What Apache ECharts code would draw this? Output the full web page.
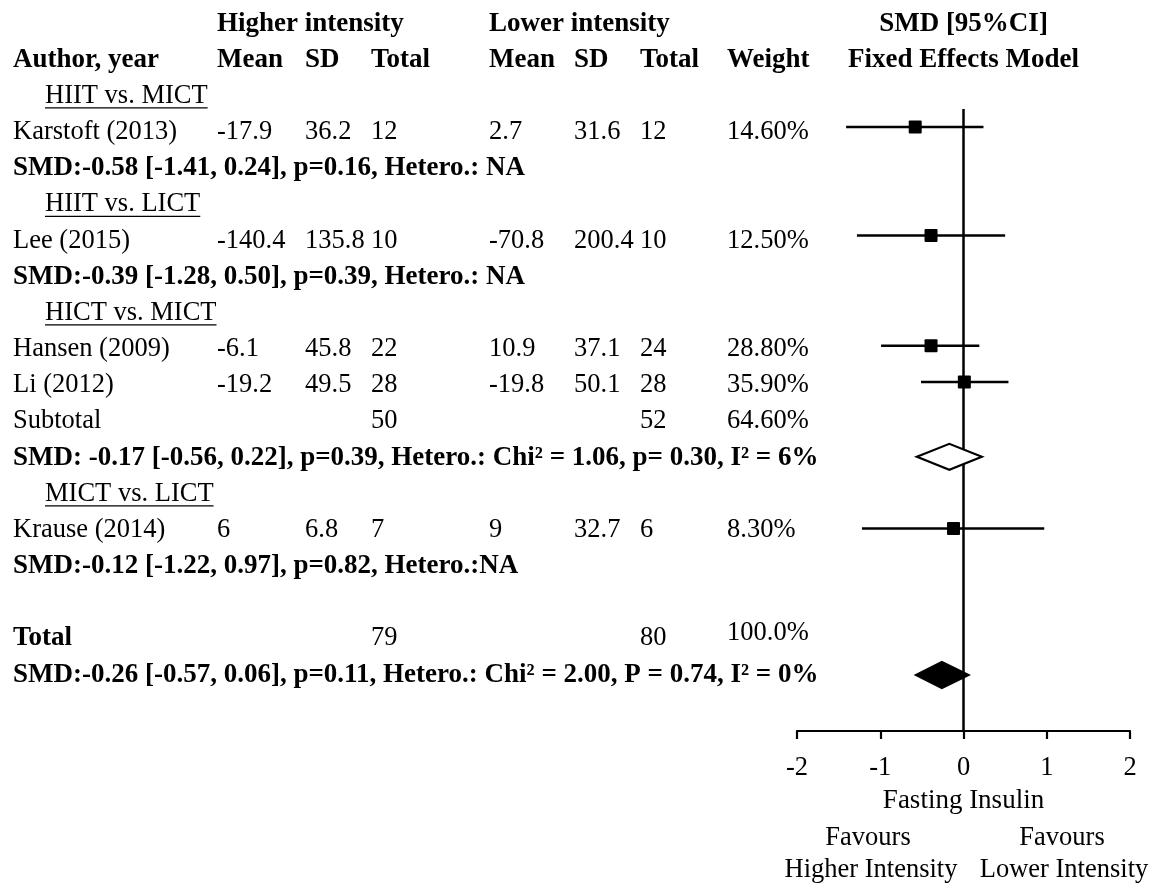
<!DOCTYPE html>
<html><head><meta charset="utf-8">
<script src="https://cdn.jsdelivr.net/npm/echarts@6/dist/echarts.min.js"></script>
<style>html,body{margin:0;padding:0;background:#fff}#c{width:1153px;height:883px}</style>
</head><body><div id="c"></div>
<script>
// ---------------- DATA ----------------
const studies = ['Karstoft (2013)', 'Lee (2015)', 'Hansen (2009)', 'Li (2012)', 'Krause (2014)'];
const hiMean = ['-17.9', '-140.4', '-6.1', '-19.2', '6'];
const hiSD = ['36.2', '135.8', '45.8', '49.5', '6.8'];
const hiN = [12, 10, 22, 28, 7];
const loMean = ['2.7', '-70.8', '10.9', '-19.8', '9'];
const loSD = ['31.6', '200.4', '37.1', '50.1', '32.7'];
const loN = [12, 10, 24, 28, 6];
const weights = ['14.60%', '12.50%', '28.80%', '35.90%', '8.30%'];
const smd = [-0.58, -0.39, -0.39, 0.01, -0.12];
const ciLow = [-1.41, -1.28, -0.99, -0.51, -1.22];
const ciHigh = [0.24, 0.50, 0.19, 0.54, 0.97];
const studyRows = [3, 6, 9, 10, 14];
const markerRows = [2.9, 5.9, 8.95, 9.95, 14];

const subgroupLabels = ['HIIT vs. MICT', 'HIIT vs. LICT', 'HICT vs. MICT', 'MICT vs. LICT'];
const subgroupRows = [2, 5, 8, 13];
const summaryTexts = [
  'SMD:-0.58 [-1.41, 0.24], p=0.16, Hetero.: NA',
  'SMD:-0.39 [-1.28, 0.50], p=0.39, Hetero.: NA',
  'SMD: -0.17 [-0.56, 0.22], p=0.39, Hetero.: Chi² = 1.06, p= 0.30, I² = 6%',
  'SMD:-0.12 [-1.22, 0.97], p=0.82, Hetero.:NA',
  'SMD:-0.26 [-0.57, 0.06], p=0.11, Hetero.: Chi² = 2.00, P = 0.74, I² = 0%'
];
const summaryRows = [4, 7, 12, 15, 18];

const subtotalRow = { label: 'Subtotal', hiN: 50, loN: 52, weight: '64.60%', row: 11 };
const totalRow = { label: 'Total', hiN: 79, loN: 80, weight: '100.0%', row: 17 };

// pooled estimates
const pooledEst = [-0.17, -0.26];
const pooledLow = [-0.56, -0.57];
const pooledHigh = [0.22, 0.06];
const pooledRows = [12.02, 18.05];
const pooledFilled = [0, 1];

const xTicks = [-2, -1, 0, 1, 2];
const groupHeaders = ['Higher intensity', 'Lower intensity'];
const colHeaders = ['Author, year', 'Mean', 'SD', 'Total', 'Mean', 'SD', 'Total', 'Weight'];
const plotHeaders = ['SMD [95%CI]', 'Fixed Effects Model'];
const axisTitle = 'Fasting Insulin';
const favours = [['Favours', 'Higher Intensity'], ['Favours', 'Lower Intensity']];

// ---------------- LAYOUT ----------------
const FONT = '"Liberation Serif", "Times New Roman", serif';
const FS = 26.5;     // regular text
const FSB = 27;      // bold text
const TEXT_DY = 1.5;
const colX = [13, 217, 305, 371, 489, 574, 640, 727];
const subgroupX = 45;
const refLineTop = 2.4;
const axisRowMax = 19.6;

// ---------------- BUILD TEXT ITEMS ----------------
const textItems = [];
textItems.push({ row: 0, x: colX[1], text: groupHeaders[0], bold: true });
textItems.push({ row: 0, x: colX[4], text: groupHeaders[1], bold: true });
textItems.push({ row: 0, center: true, text: plotHeaders[0], bold: true });
colHeaders.forEach((h, i) => textItems.push({ row: 1, x: colX[i], text: h, bold: true }));
textItems.push({ row: 1, center: true, text: plotHeaders[1], bold: true });
subgroupLabels.forEach((s, i) => textItems.push({ row: subgroupRows[i], x: subgroupX, text: s, underline: true }));
studies.forEach((s, i) => {
  const r = studyRows[i];
  [s, hiMean[i], hiSD[i], String(hiN[i]), loMean[i], loSD[i], String(loN[i]), weights[i]]
    .forEach((t, c) => textItems.push({ row: r, x: colX[c], text: t }));
});
summaryTexts.forEach((s, i) => textItems.push({ row: summaryRows[i], x: colX[0], text: s, bold: true }));
textItems.push({ row: subtotalRow.row, x: colX[0], text: subtotalRow.label });
textItems.push({ row: subtotalRow.row, x: colX[3], text: String(subtotalRow.hiN) });
textItems.push({ row: subtotalRow.row, x: colX[6], text: String(subtotalRow.loN) });
textItems.push({ row: subtotalRow.row, x: colX[7], text: subtotalRow.weight });
textItems.push({ row: totalRow.row, x: colX[0], text: totalRow.label, bold: true });
textItems.push({ row: totalRow.row, x: colX[3], text: String(totalRow.hiN) });
textItems.push({ row: totalRow.row, x: colX[6], text: String(totalRow.loN) });
textItems.push({ row: totalRow.row, x: colX[7], text: totalRow.weight, dy: -5 });

const measureCtx = document.createElement('canvas').getContext('2d');
function textWidth(t, bold) {
  measureCtx.font = (bold ? 'bold ' + FSB : FS) + 'px ' + FONT;
  return measureCtx.measureText(t).width;
}

const chart = echarts.init(document.getElementById('c'), null, { renderer: 'canvas' });

const option = {
  backgroundColor: '#ffffff',
  animation: false,
  grid: { left: 797, right: 23, top: 4, bottom: 152 },
  xAxis: {
    type: 'value', min: xTicks[0], max: xTicks[xTicks.length - 1], interval: 1,
    name: axisTitle, nameLocation: 'middle', nameGap: 56,
    nameTextStyle: { fontFamily: FONT, fontSize: 27, color: '#000' },
    axisLine: { onZero: false, lineStyle: { color: '#000', width: 2.2 } },
    axisTick: { show: true, length: 8, inside: false, lineStyle: { color: '#000', width: 2.2 } },
    axisLabel: { fontFamily: FONT, fontSize: 26.5, color: '#000', margin: 24 },
    splitLine: { show: false }
  },
  yAxis: { type: 'value', inverse: true, min: -0.5, max: axisRowMax, show: false },
  series: [
    {
      type: 'line', data: [[0, refLineTop], [0, axisRowMax]], symbol: 'none',
      lineStyle: { color: '#000', width: 2.5 }, silent: true, z: 1
    },
    {
      type: 'custom', clip: false, z: 3,
      data: smd.map((v, i) => [v, markerRows[i], ciLow[i], ciHigh[i]]),
      renderItem(params, api) {
        const c = api.coord([api.value(0), api.value(1)]);
        const l = api.coord([api.value(2), api.value(1)]);
        const h = api.coord([api.value(3), api.value(1)]);
        const s = 13;
        return { type: 'group', children: [
          { type: 'line', shape: { x1: l[0], y1: l[1], x2: h[0], y2: h[1] }, style: { stroke: '#000', lineWidth: 2.5 } },
          { type: 'rect', shape: { x: c[0] - s / 2, y: c[1] - s / 2, width: s, height: s, r: 1 }, style: { fill: '#000' } }
        ] };
      }
    },
    {
      type: 'custom', clip: false, z: 3,
      data: pooledEst.map((v, i) => [v, pooledRows[i], pooledLow[i], pooledHigh[i], pooledFilled[i]]),
      renderItem(params, api) {
        const c = api.coord([api.value(0), api.value(1)]);
        const l = api.coord([api.value(2), api.value(1)]);
        const h = api.coord([api.value(3), api.value(1)]);
        const hh = 13;
        const filled = api.value(4) === 1;
        return {
          type: 'polygon',
          shape: { points: [[l[0], c[1]], [c[0], c[1] - hh], [h[0], c[1]], [c[0], c[1] + hh]] },
          style: { fill: filled ? '#000' : '#fff', stroke: '#000', lineWidth: 2.2, lineJoin: 'miter' }
        };
      }
    },
    {
      type: 'custom', clip: false, z: 4, silent: true,
      data: textItems.map(t => [0, t.row]),
      renderItem(params, api) {
        const it = textItems[params.dataIndex];
        const p = api.coord([0, it.row]);
        const y = p[1] + TEXT_DY + (it.dy || 0);
        const x = it.center ? p[0] : it.x;
        const children = [{
          type: 'text', x: x, y: y,
          style: {
            text: it.text, fontFamily: FONT, fontSize: it.bold ? FSB : FS, fontWeight: it.bold ? 'bold' : 'normal',
            fill: '#000', align: it.center ? 'center' : 'left', verticalAlign: 'middle'
          }
        }];
        if (it.underline) {
          const w = textWidth(it.text, it.bold);
          children.push({ type: 'line', shape: { x1: x, y1: y + 12, x2: x + w, y2: y + 12 }, style: { stroke: '#000', lineWidth: 1.3 } });
        }
        return { type: 'group', children };
      }
    }
  ],
  graphic: [
    { type: 'text', x: 868, y: 838, style: { text: favours[0][0], fontFamily: FONT, fontSize: FS, fill: '#000', align: 'center', verticalAlign: 'middle' } },
    { type: 'text', x: 871, y: 870, style: { text: favours[0][1], fontFamily: FONT, fontSize: FS, fill: '#000', align: 'center', verticalAlign: 'middle' } },
    { type: 'text', x: 1062, y: 838, style: { text: favours[1][0], fontFamily: FONT, fontSize: FS, fill: '#000', align: 'center', verticalAlign: 'middle' } },
    { type: 'text', x: 1064, y: 870, style: { text: favours[1][1], fontFamily: FONT, fontSize: FS, fill: '#000', align: 'center', verticalAlign: 'middle' } }
  ]
};
chart.setOption(option);
</script>
</body></html>
